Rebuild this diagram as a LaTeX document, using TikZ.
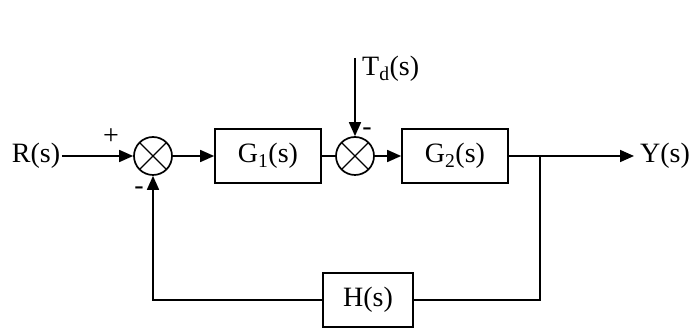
\documentclass[tikz,border=0pt]{standalone}
\usepackage{fontspec}
\setmainfont{Liberation Serif}
\usetikzlibrary{arrows.meta}
\begin{document}
\begin{tikzpicture}[x=1pt,y=1pt,
  font=\fontsize{28}{30}\selectfont,
  line width=1.7pt,
  blockbox/.style={draw, rectangle, minimum width=106pt, minimum height=54pt, inner sep=0pt},
  sumnode/.style={draw, circle, minimum size=38pt, inner sep=0pt,
    path picture={\draw[line width=1.4pt] (path picture bounding box.south west) -- (path picture bounding box.north east)
      (path picture bounding box.north west) -- (path picture bounding box.south east);}},
  sig/.style={-{Triangle[length=14pt,width=12pt]}},
  signlabel/.style={font=\fontsize{28}{30}\selectfont, inner sep=0pt}
]
\useasboundingbox (0,0) rectangle (697,329);
\node[inner sep=1pt] (R) at (36,173) {R(s)};
\node[sumnode] (s1) at (153,173) {};
\node[blockbox] (G1) at (268,173) {G\textsubscript{1}(s)};
\node[sumnode] (s2) at (355,173) {};
\node[blockbox] (G2) at (455,173) {G\textsubscript{2}(s)};
\coordinate (br) at (540,173);
\coordinate (yend) at (634,173);
\node[anchor=west] (Y) at (636,173) {Y(s)};
\coordinate (tdtop) at (355,271);
\node[anchor=west] (Td) at (358,260) {T\textsubscript{d}(s)};
\node[blockbox, minimum width=90pt] (H) at (368,29) {H(s)};
\coordinate (brdown) at (540,29);
\coordinate (fbl) at (153,29);
\node[signlabel] (plus) at (111,192) {+};
\node[signlabel] (m1) at (139,138) {-};
\node[signlabel] (m2) at (367,197) {-};

\draw[sig] (R.east) -- (s1.west);
\draw[sig] (s1.east) -- (G1.west);
\draw (G1.east) -- (s2.west);
\draw[sig] (tdtop) -- (s2.north);
\draw[sig] (s2.east) -- (G2.west);
\draw[sig] (G2.east) -- (yend);
\draw (br) -- (brdown) -- (H.east);
\draw[sig] (H.west) -- (fbl) -- (s1.south);
\end{tikzpicture}
\end{document}
